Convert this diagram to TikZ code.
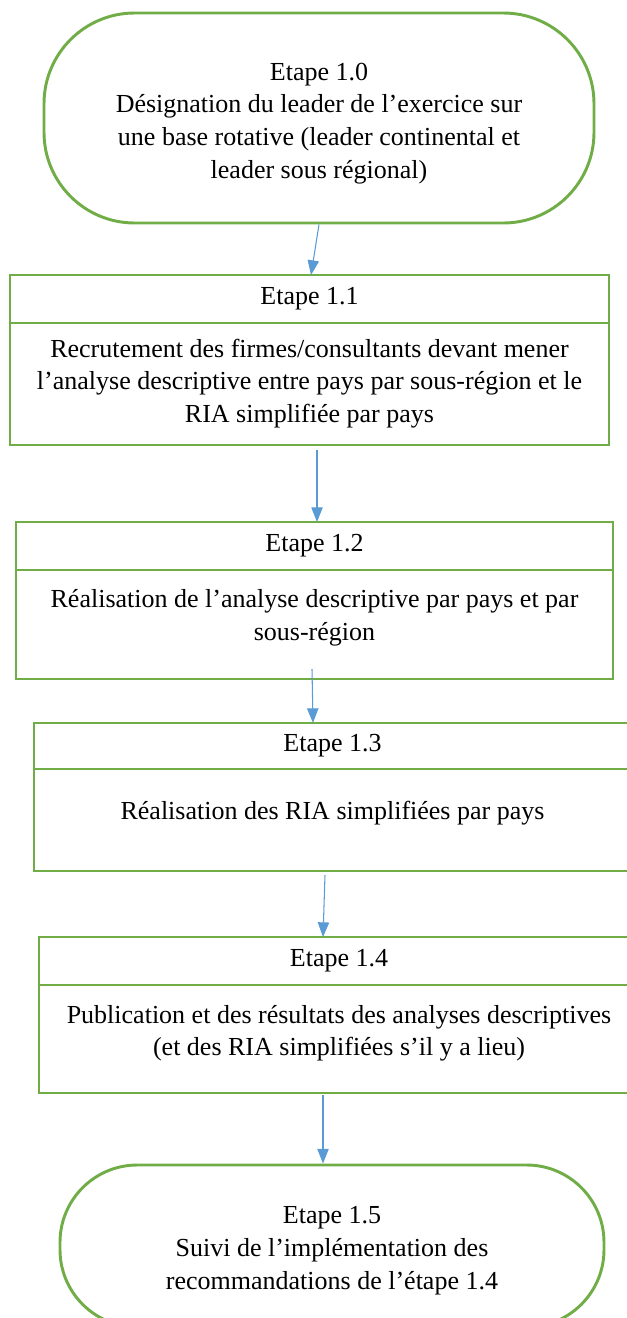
\documentclass[tikz,border=0pt]{standalone}
\usepackage{fontspec}
\setmainfont{Liberation Serif}
\usetikzlibrary{arrows.meta, positioning, calc}

\definecolor{vertcadre}{HTML}{70AD47}
\definecolor{bleufleche}{HTML}{5B9BD5}

% body text of a box: height, top space, text
\newcommand{\corps}[3]{\parbox[c][#1][t]{440pt}{\centering\vspace*{#2}#3}}

\begin{document}
\begin{tikzpicture}
  [
  x = 0.75pt, y = -0.75pt,
  every node/.style = {font = \fontsize{19.5pt}{24.5pt}\selectfont},
  % terminal
  terminal/.style = {rectangle,
    draw = vertcadre, line width = 2.2pt,
    align = center, inner sep = 0pt},
  % header
  entete/.style = {rectangle,
    draw = vertcadre, line width = 2.2pt,
    minimum height = 36pt, inner sep = 0pt, outer sep = 0pt,
    anchor = north west},
  % body
  corpsboite/.style = {rectangle,
    draw = vertcadre, line width = 2.2pt,
    inner sep = 0pt, outer sep = 0pt,
    below = 0pt of #1},
  % line
  fleche/.style = {draw = bleufleche, line width = 0.8pt,
    -{Triangle[width = 8.5pt, length = 11pt]}},
  ]

  \useasboundingbox (0,0) rectangle (627,1318);
  \clip (0,0) rectangle (627,1318);

  % nodes
  \node [terminal, minimum width = 412.5pt, minimum height = 157.5pt,
    rounded corners = 68pt] (e10) at (319,118)
    {\rule{0pt}{21pt}Etape 1.0\\ Désignation du leader de l’exercice sur\\
     une base rotative (leader continental et\\ leader sous régional)};

  \node [entete, minimum width = 449.25pt] (e11t) at (10,275) {Etape 1.1};
  \node [corpsboite = e11t, minimum width = 449.25pt] (e11)
    {\corps{91.5pt}{12pt}{Recrutement des firmes/consultants devant mener\\
     l’analyse descriptive entre pays par sous-région et le\\
     RIA simplifiée par pays}};

  \node [entete, minimum width = 447.75pt] (e12t) at (16,522) {Etape 1.2};
  \node [corpsboite = e12t, minimum width = 447.75pt] (e12)
    {\corps{81.75pt}{14.5pt}{Réalisation de l’analyse descriptive par pays et par\\
     sous-région}};

  \node [entete, minimum width = 447.75pt, minimum height = 34.5pt] (e13t) at (34,723) {Etape 1.3};
  \node [corpsboite = e13t, minimum width = 447.75pt] (e13)
    {\corps{76.5pt}{24pt}{Réalisation des RIA simplifiées par pays}};

  \node [entete, minimum width = 450pt] (e14t) at (39,937) {Etape 1.4};
  \node [corpsboite = e14t, minimum width = 450pt] (e14)
    {\corps{81pt}{15pt}{Publication et des résultats des analyses descriptives\\
     (et des RIA simplifiées s’il y a lieu)}};

  \node [terminal, minimum width = 408pt, minimum height = 121.5pt,
    rounded corners = 58pt] (e15) at (332,1246)
    {\rule{0pt}{20pt}Etape 1.5\\ Suivi de l’implémentation des\\
     recommandations de l’étape 1.4};

  % path
  \path [fleche] (e10.south) -- ($(e11t.north)+(1.5,0)$);
  \path [fleche] ($(e11.south)+(7.5,5)$) -- ($(e12t.north)+(2.5,0)$);
  \path [fleche] ($(e12.south)+(-2.5,-10)$) -- ($(e13t.north)+(-19.5,0)$);
  \path [fleche] ($(e13.south)+(-7.5,4)$) -- ($(e14t.north)+(-16,0)$);
  \path [fleche] ($(e14.south)+(-16,2)$) -- ($(e15.north)+(-9,0)$);

\end{tikzpicture}
\end{document}
